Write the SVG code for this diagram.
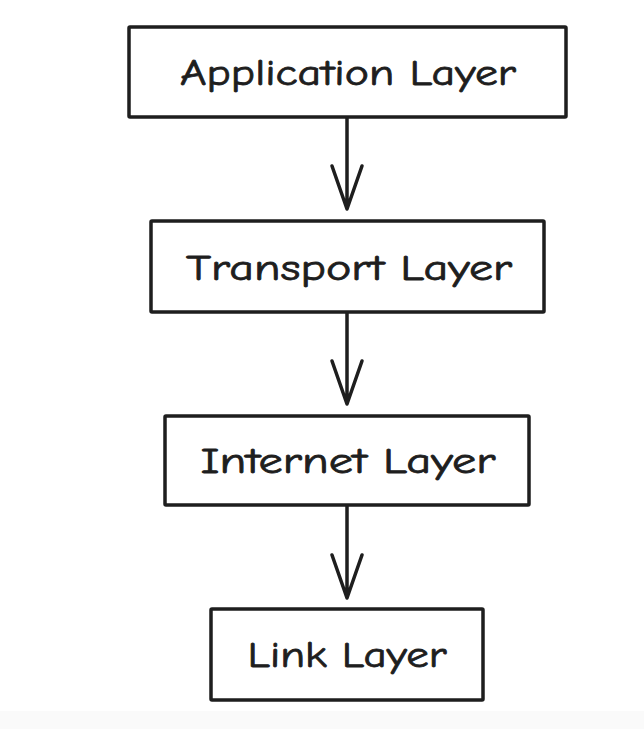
<svg xmlns="http://www.w3.org/2000/svg" width="644" height="729" viewBox="0 0 644 729">
<style>
.box{fill:#fff;stroke:#1e1e1e;stroke-width:3.5;stroke-linejoin:round}
.lbl{font-family:"Comic Neue","Open Sans","Liberation Sans",sans-serif;font-size:36px;fill:#1e1e1e;stroke:#1e1e1e;stroke-width:0.8;text-anchor:middle}
.edge{fill:none;stroke:#1e1e1e;stroke-width:3.5;stroke-linecap:round;stroke-linejoin:round}
</style>
<rect x="0" y="0" width="644" height="729" fill="#ffffff"/>
<rect x="0" y="711" width="644" height="18" fill="#fafafa"/>
<g id="connectors">
<path class="edge" d="M347 118 L347 209 M332 166 L347 209 L362 166"/>
<path class="edge" d="M347 313 L347 404 M332 361 L347 404 L362 361"/>
<path class="edge" d="M347 506 L347 598 M332 555 L347 598 L362 555"/>
</g>
<g id="application">
<rect class="box" x="129" y="27" width="437" height="90" rx="1"/>
<text class="lbl" x="348" y="85" textLength="336" lengthAdjust="spacingAndGlyphs">Application Layer</text>
</g>
<g id="transport">
<rect class="box" x="151" y="221" width="393" height="91" rx="1"/>
<text class="lbl" x="349" y="280" textLength="326" lengthAdjust="spacingAndGlyphs">Transport Layer</text>
</g>
<g id="internet">
<rect class="box" x="165" y="416" width="364" height="89" rx="1"/>
<text class="lbl" x="348" y="473" textLength="295" lengthAdjust="spacingAndGlyphs">Internet Layer</text>
</g>
<g id="link">
<rect class="box" x="211" y="609" width="272" height="91" rx="1"/>
<text class="lbl" x="347" y="667" textLength="199" lengthAdjust="spacingAndGlyphs">Link Layer</text>
</g>
</svg>
